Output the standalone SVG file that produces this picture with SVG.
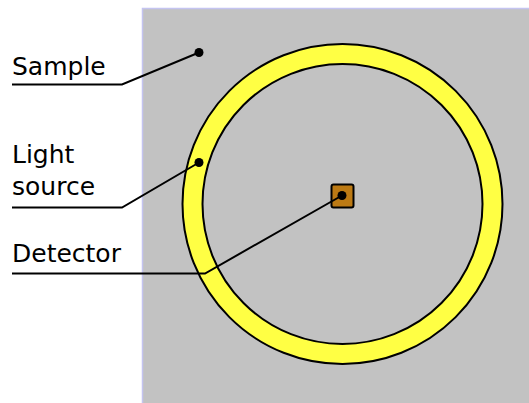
<svg xmlns="http://www.w3.org/2000/svg" width="529" height="403" viewBox="0 0 529 403">
<style>
.lbl{font-family:"DejaVu Sans",sans-serif;font-size:25px;fill:#000}
.ln{fill:none;stroke:#000;stroke-width:2}
.dot{fill:#000}
</style>
<rect width="529" height="403" fill="#fff"/>
<g id="sample">
<rect x="142.5" y="8.5" width="400" height="400" fill="#c2c2c2" stroke="#c4c4f0" stroke-width="1.5"/>
</g>
<g id="light-source">
<circle cx="342.5" cy="204" r="160" fill="#ffff44" stroke="#000" stroke-width="2"/>
<circle cx="342.5" cy="204" r="140" fill="#c2c2c2" stroke="#000" stroke-width="2"/>
</g>
<g id="detector">
<rect x="331.5" y="184.5" width="22" height="23" rx="2" fill="#bc7a14" stroke="#000" stroke-width="2"/>
</g>
<g id="labels">
<text class="lbl" x="12" y="75">Sample</text>
<text class="lbl" x="12" y="163">Light</text>
<text class="lbl" x="12" y="195">source</text>
<text class="lbl" x="12" y="262">Detector</text>
</g>
<g id="connectors">
<polyline class="ln" points="12,84.5 122,84.5 199,52.5"/>
<circle class="dot" cx="199" cy="52.5" r="4.5"/>
<polyline class="ln" points="12,207.5 122,207.5 199,162.5"/>
<circle class="dot" cx="199" cy="162.5" r="4.5"/>
<polyline class="ln" points="12,273.5 205,273.5 342,195.5"/>
<circle class="dot" cx="342" cy="195.5" r="4.5"/>
</g>
</svg>
